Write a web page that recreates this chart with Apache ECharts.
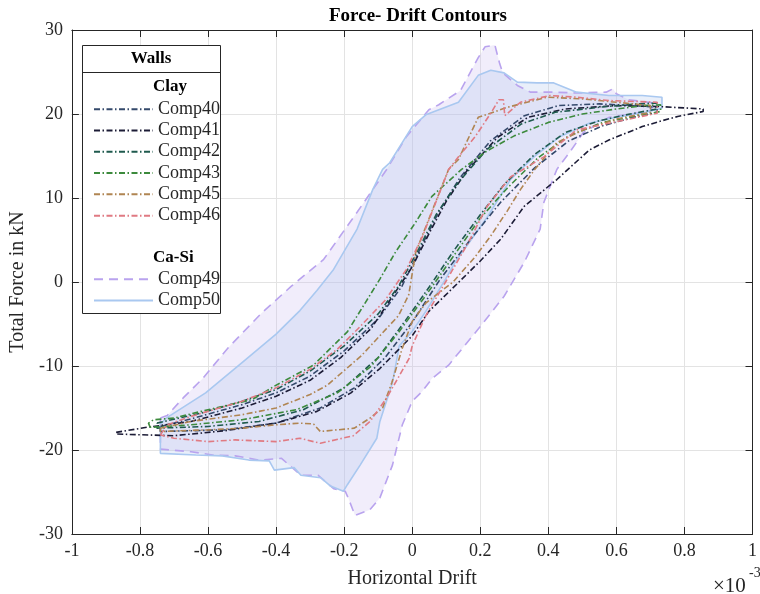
<!DOCTYPE html>
<html><head><meta charset="utf-8">
<script src="https://cdn.jsdelivr.net/npm/echarts@6/dist/echarts.min.js"></script>
<style>html,body{margin:0;padding:0;background:#fff}#c{width:760px;height:594px}</style>
</head><body><div id="c"></div>
<script>
// Horizontal drift in units of 1e-3, total force in kN
const comp40 = [[-0.74,-17.2],[-0.65,-16.3],[-0.5,-14.6],[-0.4,-13.2],[-0.3,-11.2],[-0.2,-8.2],[-0.1,-4.4],[-0.03,-0.5],[0.03,4.5],[0.08,8.5],[0.14,12.4],[0.23,16.8],[0.33,19.8],[0.43,21.0],[0.55,21.2],[0.65,21.0],[0.72,20.8],
  [0.72,20.2],[0.65,19.6],[0.56,18.6],[0.46,16.8],[0.36,13.6],[0.26,9.5],[0.17,5.0],[0.08,0.2],[0.0,-4.8],[-0.08,-9.0],[-0.17,-12.6],[-0.27,-15.0],[-0.4,-16.8],[-0.55,-17.6],[-0.74,-17.8],[-0.74,-17.2]];
const comp41 = [[-0.87,-17.9],[-0.78,-17.3],[-0.65,-16.6],[-0.5,-15.0],[-0.4,-13.6],[-0.3,-11.7],[-0.21,-9.0],[-0.12,-5.5],[-0.066,-2.2],[0.0,1.8],[0.05,5.8],[0.1,9.6],[0.16,13.2],[0.25,17.2],[0.34,19.6],[0.45,20.6],[0.6,21.0],[0.72,20.9],[0.855,20.6],
  [0.855,20.3],[0.78,19.7],[0.734,19.2],[0.676,18.5],[0.578,16.9],[0.52,15.7],[0.425,12.2],[0.329,9.0],[0.26,5.1],[0.2,2.5],[0.145,0.3],[0.049,-3.5],[0.0,-6.4],[-0.095,-10.3],[-0.18,-13.2],[-0.28,-15.4],[-0.4,-16.8],[-0.55,-17.7],[-0.7,-18.3],[-0.87,-18.1]];
const comp42 = [[-0.75,-16.8],[-0.62,-15.6],[-0.5,-14.2],[-0.4,-12.8],[-0.3,-10.6],[-0.2,-7.6],[-0.1,-3.8],[-0.04,-0.5],[0.02,4.0],[0.07,8.0],[0.13,11.6],[0.22,15.8],[0.32,18.8],[0.42,20.2],[0.55,20.8],[0.66,21.2],[0.72,21.3],
  [0.72,20.6],[0.64,20.0],[0.55,19.2],[0.45,17.8],[0.36,15.2],[0.27,11.6],[0.2,8.0],[0.12,3.6],[0.05,-0.6],[-0.02,-4.6],[-0.1,-9.0],[-0.2,-12.6],[-0.32,-15.2],[-0.45,-16.6],[-0.6,-17.2],[-0.75,-17.4],[-0.75,-16.8]];
const comp43 = [[-0.77,-17.3],[-0.775,-16.8],[-0.76,-16.4],[-0.7,-16.2],[-0.62,-15.4],[-0.47,-14.0],[-0.405,-12.4],[-0.29,-9.9],[-0.19,-5.9],[-0.095,0.35],[-0.05,3.5],[0.01,7.1],[0.058,10.2],[0.145,13.4],[0.22,15.6],[0.3,17.4],[0.4,19.0],[0.5,20.0],[0.6,20.6],[0.68,21.0],[0.73,21.1],
  [0.73,20.3],[0.66,19.8],[0.56,19.0],[0.46,17.4],[0.37,14.8],[0.28,11.2],[0.2,7.6],[0.12,3.0],[0.04,-1.6],[-0.04,-6.0],[-0.12,-10.0],[-0.22,-13.2],[-0.34,-15.2],[-0.5,-16.4],[-0.65,-17.0],[-0.77,-17.3]];
const comp45 = [[-0.74,-17.4],[-0.65,-16.6],[-0.5,-15.8],[-0.4,-15.0],[-0.3,-13.4],[-0.25,-12.3],[-0.15,-8.8],[-0.04,-4.0],[-0.01,-1.5],[0.0,1.0],[0.01,3.5],[0.049,7.5],[0.107,13.4],[0.136,14.6],[0.194,19.6],[0.28,20.8],[0.396,22.0],[0.5,21.8],[0.6,21.4],[0.7,21.0],
  [0.7,20.2],[0.6,19.4],[0.503,18.1],[0.425,16.6],[0.36,13.4],[0.318,11.0],[0.28,8.5],[0.231,5.5],[0.185,3.0],[0.12,0.0],[0.04,-2.5],[0.0,-4.7],[-0.03,-8.0],[-0.06,-12.0],[-0.087,-15.0],[-0.124,-16.2],[-0.17,-17.4],[-0.27,-17.8],[-0.29,-16.9],[-0.33,-16.8],[-0.4,-17.0],[-0.5,-17.4],[-0.6,-17.6],[-0.74,-17.8],[-0.74,-17.4]];
const comp46 = [[-0.74,-18.2],[-0.72,-17.0],[-0.65,-16.0],[-0.5,-14.2],[-0.4,-12.6],[-0.3,-10.4],[-0.22,-8.0],[-0.16,-5.6],[-0.08,-2.2],[-0.017,1.5],[0.03,5.4],[0.107,13.4],[0.136,14.9],[0.185,17.3],[0.231,20.1],[0.255,21.7],[0.268,21.7],[0.272,19.8],[0.318,21.4],[0.405,22.2],[0.483,22.0],[0.578,21.6],[0.72,21.4],
  [0.72,20.1],[0.578,18.9],[0.483,18.1],[0.387,14.9],[0.289,12.5],[0.22,9.0],[0.165,4.7],[0.098,0.0],[0.04,-4.0],[0.0,-7.6],[-0.009,-9.1],[-0.075,-13.8],[-0.124,-16.6],[-0.173,-18.3],[-0.27,-19.2],[-0.33,-18.6],[-0.4,-19.0],[-0.52,-18.8],[-0.6,-19.0],[-0.7,-18.6],[-0.74,-18.2]];
const comp49 = [[-0.74,-16.2],[-0.72,-15.9],[-0.673,-13.8],[-0.616,-11.5],[-0.54,-7.8],[-0.44,-3.6],[-0.355,-0.5],[-0.26,2.7],[-0.162,8.3],[-0.075,13.4],[-0.017,17.3],[0.049,20.5],[0.078,21.1],[0.142,22.8],[0.194,26.7],[0.214,28.0],[0.243,28.2],[0.257,26.0],[0.266,24.9],[0.309,23.4],[0.347,22.6],[0.416,22.6],[0.483,22.5],[0.57,22.6],[0.59,23.0],[0.6,22.4],[0.636,21.7],[0.714,21.3],[0.7,20.4],[0.676,20.2],[0.578,19.6],[0.503,17.8],[0.462,15.4],[0.425,13.4],[0.387,9.5],[0.376,6.3],[0.33,2.4],[0.27,-1.7],[0.2,-5.3],[0.107,-9.9],[0.058,-11.5],[0.03,-13.0],[0.0,-14.2],[-0.029,-17.0],[-0.058,-21.8],[-0.095,-25.7],[-0.124,-27.1],[-0.168,-27.8],[-0.188,-25.7],[-0.197,-24.9],[-0.231,-24.6],[-0.277,-23.0],[-0.327,-23.0],[-0.384,-21.0],[-0.45,-21.2],[-0.52,-20.7],[-0.587,-20.6],[-0.65,-20.2],[-0.74,-19.9],[-0.74,-16.2]];
const comp50 = [[-0.74,-17.0],[-0.723,-16.2],[-0.607,-13.2],[-0.5,-9.6],[-0.4,-6.2],[-0.33,-3.4],[-0.28,-1.0],[-0.231,1.5],[-0.162,6.3],[-0.116,11.0],[-0.087,13.4],[-0.066,14.2],[0.0,18.5],[0.04,19.9],[0.136,21.4],[0.194,24.6],[0.231,25.2],[0.27,24.9],[0.309,23.8],[0.367,23.7],[0.416,23.7],[0.483,22.6],[0.578,22.2],[0.676,22.2],[0.734,22.0],[0.734,20.7],[0.676,20.1],[0.598,19.6],[0.52,18.9],[0.434,17.3],[0.358,14.9],[0.289,12.2],[0.222,7.8],[0.127,2.4],[0.098,0.35],[0.04,-3.5],[0.0,-5.9],[-0.038,-7.6],[-0.058,-12.0],[-0.095,-16.6],[-0.104,-18.6],[-0.153,-21.8],[-0.19,-24.1],[-0.202,-24.9],[-0.24,-24.3],[-0.269,-23.3],[-0.327,-23.0],[-0.347,-22.1],[-0.405,-22.4],[-0.42,-21.3],[-0.48,-21.2],[-0.558,-20.7],[-0.636,-20.6],[-0.74,-20.4],[-0.74,-17.0]];

const clayNames = ['Comp40','Comp41','Comp42','Comp43','Comp45','Comp46'];
const claySeries = [comp40, comp41, comp42, comp43, comp45, comp46];
const clayColors = ['#34496b','#1c1c36','#1f5a4e','#3c8a3c','#b08552','#e07a82'];
const casiNames = ['Comp49','Comp50'];
const casiColors = ['#b9a3ee','#a9c8f0'];

const FONT = 'Liberation Serif';
const chart = echarts.init(document.getElementById('c'), null, {renderer:'canvas'});

function polySeries(points, fill){
  return {type:'custom', coordinateSystem:'cartesian2d', silent:true, z:1, data:[[0,0]],
    renderItem:(params, api)=>({type:'polygon', shape:{points: points.map(p=>api.coord(p))}, style:{fill:fill, stroke:null}})};
}
const series = [
  polySeries(comp49, 'rgba(200,185,240,0.25)'),
  polySeries(comp50, 'rgba(175,195,238,0.27)'),
  {name:'Comp49', type:'line', data:comp49, symbol:'none', z:2, lineStyle:{color:casiColors[0], width:1.6, type:[9,6]}, itemStyle:{color:casiColors[0]}},
  {name:'Comp50', type:'line', data:comp50, symbol:'none', z:2, lineStyle:{color:casiColors[1], width:1.6, type:'solid'}, itemStyle:{color:casiColors[1]}}
];
claySeries.forEach((d,i)=>{
  series.push({name:clayNames[i], type:'line', data:d, symbol:'none', z:3,
    lineStyle:{color:clayColors[i], width:1.6, type:[6,2.5,1.5,2.5]}, itemStyle:{color:clayColors[i]}});
});

const tickFmt = v => String(Math.round(v*10)/10);
const legendCommon = {orient:'vertical', left:88, itemWidth:59, itemHeight:12, itemGap:0,
  itemStyle:{opacity:0}, lineStyle:{opacity:1},
  textStyle:{fontFamily:FONT, fontSize:18, color:'#262626', lineHeight:21.3}, selectedMode:false, z:6};
const option = {
  animation:false,
  backgroundColor:'#fff',
  title:{text:'Force- Drift Contours', left:413, top:2, textAlign:'center',
    textStyle:{fontFamily:FONT, fontWeight:'bold', fontSize:19, color:'#000'}},
  grid:{left:67, right:1, top:30, bottom:57, containLabel:false},
  xAxis:[{type:'value', min:-1, max:1, interval:0.2, position:'bottom',
      name:'Horizontal Drift', nameLocation:'middle', nameGap:35,
      nameTextStyle:{fontFamily:FONT, fontSize:20, color:'#262626'},
      axisLine:{onZero:false, lineStyle:{color:'#262626', width:1}},
      axisTick:{inside:true, length:7, lineStyle:{color:'#262626'}},
      axisLabel:{formatter:tickFmt, fontFamily:FONT, fontSize:18, color:'#262626', margin:8},
      splitLine:{show:true, lineStyle:{color:'#e3e3e3', width:1}}},
    {type:'value', min:-1, max:1, interval:0.2, position:'top',
      axisLine:{onZero:false, lineStyle:{color:'#262626', width:1}},
      axisTick:{inside:true, length:7, lineStyle:{color:'#262626'}},
      axisLabel:{show:false}, splitLine:{show:false}}],
  yAxis:[{type:'value', min:-30, max:30, interval:10, position:'left',
      name:'Total Force in kN', nameLocation:'middle', nameGap:40,
      nameTextStyle:{fontFamily:FONT, fontSize:20, color:'#262626'},
      axisLine:{onZero:false, lineStyle:{color:'#262626', width:1}},
      axisTick:{inside:true, length:7, lineStyle:{color:'#262626'}},
      axisLabel:{fontFamily:FONT, fontSize:18, color:'#262626', margin:9},
      splitLine:{show:true, lineStyle:{color:'#e3e3e3', width:1}}},
    {type:'value', min:-30, max:30, interval:10, position:'right',
      axisLine:{onZero:false, lineStyle:{color:'#262626', width:1}},
      axisTick:{inside:true, length:7, lineStyle:{color:'#262626'}},
      axisLabel:{show:false}, splitLine:{show:false}}],
  legend:[
    Object.assign({data:clayNames, top:93.5}, legendCommon),
    Object.assign({data:casiNames, top:263.5}, legendCommon)
  ],
  graphic:[
    {type:'rect', z:5, shape:{x:82.5, y:45.5, width:138, height:268}, style:{fill:'#fff', stroke:'#262626', lineWidth:1}},
    {type:'line', z:5, shape:{x1:82.5, y1:72.5, x2:220.5, y2:72.5}, style:{stroke:'#262626', lineWidth:1}},
    {type:'text', z:7, x:151, y:59, style:{text:'Walls', fontFamily:FONT, fontWeight:'bold', fontSize:17, fill:'#000', align:'center', verticalAlign:'middle'}},
    {type:'text', z:7, x:153, y:87, style:{text:'Clay', fontFamily:FONT, fontWeight:'bold', fontSize:17, fill:'#000', align:'left', verticalAlign:'middle'}},
    {type:'text', z:7, x:153, y:258, style:{text:'Ca-Si', fontFamily:FONT, fontWeight:'bold', fontSize:17, fill:'#000', align:'left', verticalAlign:'middle'}},
    {type:'text', z:7, x:713, y:586, style:{text:'\u00d710', fontFamily:FONT, fontSize:21, fill:'#262626', align:'left', verticalAlign:'middle'}},
    {type:'text', z:7, x:749, y:573, style:{text:'-3', fontFamily:FONT, fontSize:14, fill:'#262626', align:'left', verticalAlign:'middle'}}
  ],
  series: series
};
chart.setOption(option);
</script></body></html>
